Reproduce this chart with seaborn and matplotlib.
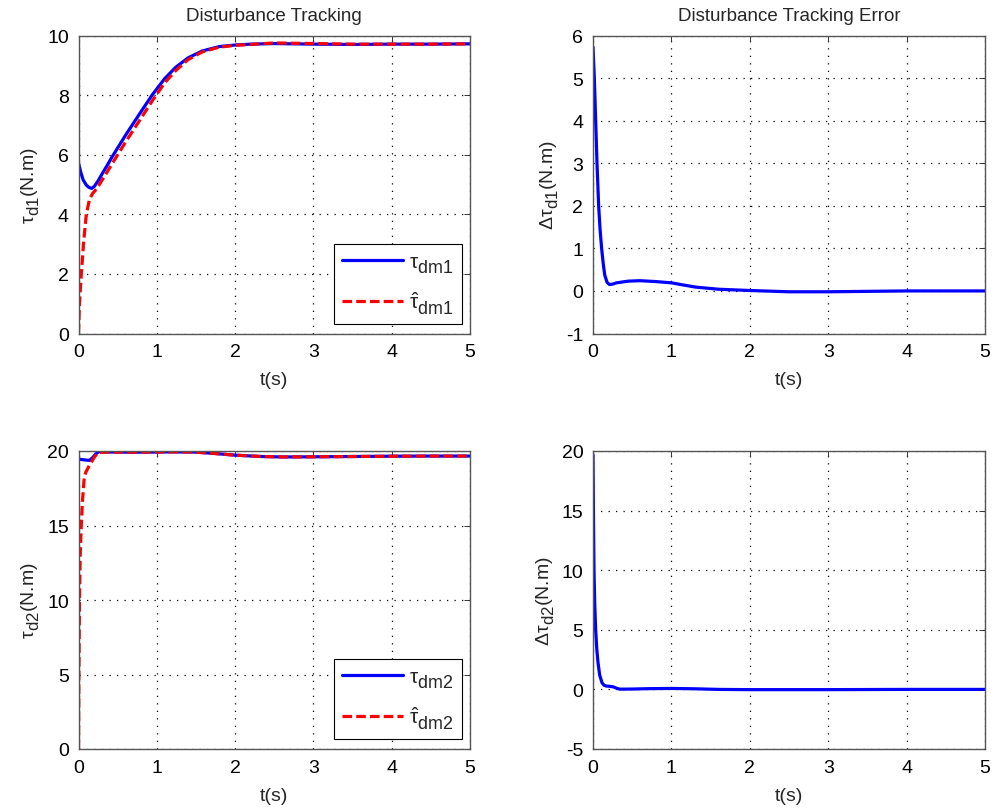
import numpy as np
import pandas as pd
import matplotlib
matplotlib.use("Agg")
import matplotlib.pyplot as plt
from matplotlib import _mathtext
import seaborn as sns

# ---- disturbance channel 1 ----
t_tau1 = [0, 0.03, 0.06, 0.1, 0.135, 0.168, 0.2, 0.25, 0.3, 0.375, 0.43, 0.6, 0.8,
          0.94, 1.1, 1.24, 1.4, 1.58, 1.8, 2.0, 2.2, 2.5, 3.0, 3.5, 4.0, 4.5, 5.0]
tau1 = [5.73, 5.4, 5.15, 4.98, 4.9, 4.87, 4.93, 5.12, 5.35, 5.68, 5.93, 6.65, 7.45,
        8.0, 8.55, 8.93, 9.25, 9.48, 9.63, 9.68, 9.71, 9.73, 9.71, 9.70, 9.71, 9.71, 9.72]

t_hat1 = [0, 0.006, 0.013, 0.025, 0.04, 0.065, 0.1, 0.14, 0.18, 0.23, 0.3, 0.375, 0.43,
          0.6, 0.8, 0.94, 1.1, 1.24, 1.4, 1.58, 1.8, 2.0, 2.2, 2.5, 3.0, 3.5, 4.0, 4.5, 5.0]
hat1 = [0, 0.5, 1.0, 1.55, 2.15, 3.05, 4.0, 4.5, 4.7, 4.85, 5.14, 5.46, 5.7,
        6.42, 7.23, 7.8, 8.41, 8.82, 9.19, 9.45, 9.61, 9.67, 9.70, 9.75, 9.73, 9.71, 9.71, 9.71, 9.72]

t_err1 = [0, 0.017, 0.034, 0.051, 0.072, 0.09, 0.11, 0.13, 0.15, 0.18, 0.21, 0.25, 0.3,
          0.45, 0.6, 0.8, 1.0, 1.15, 1.31, 1.6, 2.0, 2.5, 3.0, 3.5, 4.0, 4.5, 5.0]
err1 = [5.73, 5.0, 4.0, 3.0, 2.0, 1.45, 1.0, 0.65, 0.37, 0.2, 0.15, 0.16, 0.19,
        0.23, 0.24, 0.22, 0.19, 0.14, 0.09, 0.04, 0.01, -0.02, -0.02, -0.01, 0.0, 0.0, 0.0]

# ---- disturbance channel 2 ----
t_tau2 = [0, 0.05, 0.1, 0.14, 0.18, 0.22, 0.26, 0.4, 0.7, 1.0, 1.2, 1.47, 1.7,
          2.0, 2.34, 2.6, 3.0, 3.5, 4.0, 4.5, 5.0]
tau2 = [19.46, 19.42, 19.39, 19.37, 19.55, 19.8, 19.95, 19.93, 19.92, 19.93, 19.94, 19.93, 19.85,
        19.72, 19.63, 19.6, 19.61, 19.63, 19.65, 19.66, 19.66]

t_hat2 = [0, 0.005, 0.013, 0.022, 0.035, 0.05, 0.073, 0.095, 0.116, 0.14, 0.17, 0.21, 0.26,
          0.4, 0.7, 1.0, 1.2, 1.47, 1.7, 2.0, 2.34, 2.6, 3.0, 3.5, 4.0, 4.5, 5.0]
hat2 = [0, 5.0, 10.0, 13.0, 15.0, 16.6, 18.2, 18.6, 18.8, 19.05, 19.3, 19.65, 19.9,
        19.93, 19.92, 19.93, 19.94, 19.93, 19.85, 19.72, 19.63, 19.6, 19.61, 19.63, 19.65, 19.66, 19.66]

t_err2 = [0, 0.006, 0.013, 0.022, 0.034, 0.048, 0.064, 0.085, 0.115, 0.14, 0.17, 0.21,
          0.255, 0.3, 0.34, 0.5, 0.7, 1.0, 1.3, 1.6, 2.0, 3.0, 4.0, 5.0]
err2 = [19.7, 14.5, 10.0, 7.2, 5.0, 3.4, 2.25, 1.2, 0.56, 0.35, 0.28, 0.26,
        0.22, 0.1, 0.02, 0.03, 0.06, 0.08, 0.05, 0.0, -0.02, -0.02, 0.0, 0.0]

x_ticks = [0, 1, 2, 3, 4, 5]
y_ticks_tau1 = [0, 2, 4, 6, 8, 10]
y_ticks_err1 = [-1, 0, 1, 2, 3, 4, 5, 6]
y_ticks_tau2 = [0, 5, 10, 15, 20]
y_ticks_err2 = [-5, 0, 5, 10, 15, 20]

sns.set_theme(style="white")
plt.rcParams["font.family"] = ["Liberation Sans", "DejaVu Sans"]
plt.rcParams["mathtext.fontset"] = "custom"
plt.rcParams["mathtext.rm"] = "Liberation Sans"
plt.rcParams["mathtext.it"] = "Liberation Sans"
plt.rcParams["mathtext.bf"] = "Liberation Sans"
plt.rcParams["mathtext.default"] = "regular"
plt.rcParams["axes.unicode_minus"] = False
# larger, lower subscripts
_mathtext.SHRINK_FACTOR = 0.86
_mathtext.FontConstantsBase.sub1 = 0.5
_mathtext.FontConstantsBase.sub2 = 0.7
_mathtext.FontConstantsBase.delta = 0.06

FS = 14
W, H = 994, 812
fig = plt.figure(figsize=(W / 100, H / 100), dpi=100)


def box(x0, x1, y0, y1):
    return [x0 / W, 1 - y1 / H, (x1 - x0) / W, (y1 - y0) / H]


ax_tl = fig.add_axes(box(78.5, 470, 36.5, 334.5))
ax_tr = fig.add_axes(box(593, 985, 36.5, 334.5))
ax_bl = fig.add_axes(box(78.5, 470, 452, 750))
ax_br = fig.add_axes(box(593, 985, 452, 750))

BLUE = (0, 0, 1)
RED = (1, 0, 0)
LW = 2.3


def style(ax, yticks, ylabel):
    ax.set_xlim(0, 5)
    ax.set_ylim(yticks[0], yticks[-1])
    ax.set_xticks(x_ticks)
    ax.set_yticks(yticks)
    ax.grid(True, color="black", linestyle=(0, (1, 5)), linewidth=0.9)
    ax.set_axisbelow(True)
    for sp in ax.spines.values():
        sp.set_visible(True)
        sp.set_color("#555555")
        sp.set_linewidth(1.0)
    ax.tick_params(direction="in", length=4, width=0.7, colors="#333333",
                   top=True, right=True, labelsize=FS, labelcolor="black", pad=7)
    ax.set_xlabel("t(s)", fontsize=FS, labelpad=8)
    ax.set_ylabel(ylabel, fontsize=FS, labelpad=4)


def tracking(ax, t_a, a, t_b, b, lab_a, lab_b, yticks, ylabel, anchor):
    sns.lineplot(x=t_a, y=a, ax=ax, color=BLUE, lw=LW, estimator=None, sort=False,
                 label=lab_a)
    sns.lineplot(x=t_b, y=b, ax=ax, color=RED, lw=LW, estimator=None, sort=False,
                 label=lab_b, dashes=False)
    ax.lines[-1].set_dashes((3.0, 1.3))
    style(ax, yticks, ylabel)
    leg = ax.legend(loc="lower left", bbox_to_anchor=anchor, fontsize=15,
                    handlelength=2.9, handletextpad=0.3, labelspacing=0.7,
                    borderpad=0.4, borderaxespad=0, fancybox=False,
                    framealpha=1, edgecolor="black")
    leg.get_frame().set_linewidth(0.8)


def error(ax, t, e, yticks, ylabel):
    sns.lineplot(x=t, y=e, ax=ax, color=BLUE, lw=LW, estimator=None, sort=False)
    style(ax, yticks, ylabel)


tracking(ax_tl, t_tau1, tau1, t_hat1, hat1, r"$τ_{dm1}$", r"$\hat{τ}_{dm1}$",
         y_ticks_tau1, r"$τ_{d1}$(N.m)", (0.652, 0.032))
error(ax_tr, t_err1, err1, y_ticks_err1, r"$Δτ_{d1}$(N.m)")
tracking(ax_bl, t_tau2, tau2, t_hat2, hat2, r"$τ_{dm2}$", r"$\hat{τ}_{dm2}$",
         y_ticks_tau2, r"$τ_{d2}$(N.m)", (0.652, 0.034))
error(ax_br, t_err2, err2, y_ticks_err2, r"$Δτ_{d2}$(N.m)")

ax_tl.set_title("Disturbance Tracking", fontsize=13.5, pad=11)
ax_tr.set_title("Disturbance Tracking Error", fontsize=13.5, pad=11)

fig.savefig("out.png", dpi=100, facecolor="white")
